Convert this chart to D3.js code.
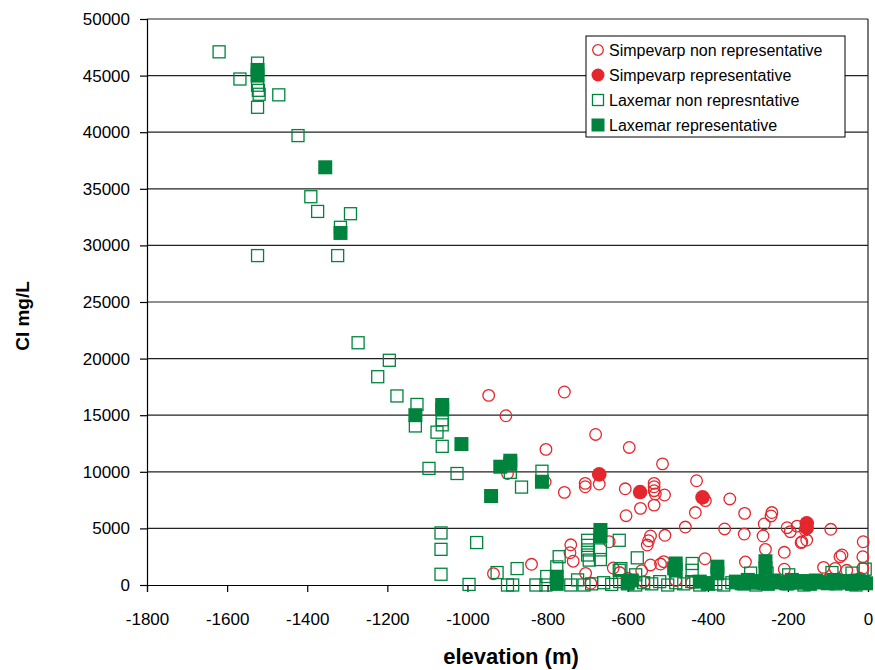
<!DOCTYPE html>
<html>
<head>
<meta charset="utf-8">
<script src="https://cdn.jsdelivr.net/npm/d3@7"></script>
<style>
  body { margin: 0; background: #fff; }
  text { font-family: "Liberation Sans", Arial, sans-serif; }
</style>
</head>
<body>
<svg id="chart" width="875" height="670"></svg>
<script>
// [elevation (m), Cl mg/L]
let simpevarpNonRep = [
  [-947, 16750], [-758, 17050], [-904, 14950], [-680, 13300], [-596, 12150], [-513, 10700],
  [-804, 11980], [-758, 8180], [-706, 8980], [-706, 8680], [-671, 8920], [-606, 8500],
  [-534, 8980], [-534, 8680], [-534, 8330], [-531, 8040], [-508, 7950], [-534, 7060],
  [-568, 6770], [-604, 6120], [-900, 9850], [-806, 9100], [-428, 9210], [-406, 7450],
  [-345, 7600], [-431, 6400], [-308, 6330], [-240, 6400], [-242, 6100], [-177, 5200],
  [-202, 5060], [-93, 4920], [-259, 5390], [-456, 5120], [-358, 4950], [-309, 4500],
  [-262, 4330], [-167, 3740], [-153, 3970], [-12, 3820], [-507, 4390], [-543, 4330],
  [-548, 3910], [-551, 3530], [-256, 3150], [-209, 2890], [-65, 2650], [-70, 2500],
  [-13, 2500], [-407, 2320], [-306, 2030], [-209, 1390], [-111, 1560], [-13, 1470],
  [-935, 1000], [-840, 1830], [-742, 3550], [-744, 2850], [-736, 2100], [-646, 3820],
  [-565, 1260], [-543, 1770], [-518, 1850], [-510, 2060], [-705, 1030], [-692, 150],
  [-620, 1100], [-636, 1500], [-194, 4710], [-157, 4860], [-165, 3820], [-82, 1470],
  [-53, 1300], [-600, 600], [-560, 300], [-480, 400], [-440, 200], [-320, 300],
  [-270, 100], [-230, 400], [-130, 200], [-100, 500], [-60, 300], [-20, 600], [-30, 100]
]

let simpevarpRep = [
  [-671, 9770], [-569, 8210], [-413, 7740], [-153, 5450], [-153, 5050]
]

let laxemarNonRep = [
  [-1620, 47100], [-1524, 46100], [-1568, 44700], [-1524, 44150], [-1522, 43700], [-1520, 43350],
  [-1471, 43300], [-1524, 42200], [-1423, 39700], [-1391, 34300], [-1374, 33000], [-1292, 32800],
  [-1317, 31600], [-1524, 29100], [-1324, 29100], [-1273, 21400], [-1195, 19850], [-1224, 18400],
  [-1176, 16700], [-1126, 15950], [-1130, 14050], [-1063, 14600], [-1063, 14150], [-1076, 13500],
  [-1063, 12250], [-1096, 10300], [-1026, 9850], [-893, 9950], [-865, 8650], [-814, 10050],
  [-1066, 4600], [-1066, 3150], [-977, 3750], [-1066, 950], [-996, 50], [-926, 1100],
  [-900, 0], [-887, 0], [-876, 1450], [-829, 0], [-802, 750], [-804, 0], [-777, 1600],
  [-771, 2500], [-742, 0], [-725, 450], [-709, 0], [-700, 3950], [-700, 3500], [-700, 3100],
  [-700, 2650], [-696, 2200], [-668, 3100], [-668, 2250], [-621, 3950], [-576, 2400],
  [-617, 1450], [-621, 1300], [-580, 900], [-439, 1900], [-439, 1300], [-293, 1050],
  [-252, 1050], [-198, 900], [-90, 1100], [-40, 1050], [-7, 1400],
  [-690, 100], [-660, 200], [-640, 50], [-620, 300], [-600, 100], [-580, 0], [-560, 200],
  [-540, 100], [-520, 300], [-500, 0], [-480, 200], [-460, 100], [-440, 300], [-420, 0],
  [-400, 200], [-380, 100], [-360, 0], [-340, 200], [-310, 100], [-280, 0], [-240, 200],
  [-200, 100], [-160, 0], [-120, 200], [-80, 100], [-30, 0]
]

let laxemarRep = [
  [-1524, 45500], [-1524, 45000], [-1355, 36900], [-1317, 31100], [-1130, 15000],
  [-1063, 15900], [-1063, 15500], [-1015, 12450], [-918, 10450], [-893, 10980], [-893, 10700],
  [-941, 7860], [-814, 9120], [-777, 730], [-777, 100], [-668, 4860], [-668, 4300],
  [-480, 1900], [-480, 1300], [-484, 1470], [-376, 1620], [-376, 1030], [-256, 2100], [-256, 1500],
  [-600, 200], [-590, 400], [-420, 300], [-400, 100],
  [-330, 300], [-315, 150], [-300, 450], [-285, 200], [-270, 350], [-250, 100], [-235, 400],
  [-220, 250], [-205, 150], [-190, 450], [-175, 200], [-160, 350], [-145, 100], [-130, 400],
  [-115, 250], [-100, 150], [-85, 450], [-70, 200], [-55, 350], [-40, 100], [-25, 400],
  [-12, 250], [-5, 150]
]

let xTicks = [-1800, -1600, -1400, -1200, -1000, -800, -600, -400, -200, 0]
let yTicks = [0, 5000, 10000, 15000, 20000, 25000, 30000, 35000, 40000, 45000, 50000]

let legendLabels = ["Simpevarp non representative", "Simpevarp representative", "Laxemar non represntative", "Laxemar representative"]

let red = "#e4262d"
let green = "#00843d"

let svg = d3.select("#chart")

let x = d3.scaleLinear().domain([-1800, 0]).range([147, 868])
let y = d3.scaleLinear().domain([0, 50000]).range([585, 19])

// gridlines
svg.append("g")
  .selectAll("line")
  .data(yTicks.filter(d => d > 0))
  .join("line")
  .attr("x1", x(-1800)).attr("x2", x(0))
  .attr("y1", d => y(d)).attr("y2", d => y(d))
  .attr("stroke", "#222").attr("stroke-width", 1.2)

// right border of the plot area
svg.append("line")
  .attr("x1", x(0)).attr("x2", x(0))
  .attr("y1", y(50000)).attr("y2", y(0))
  .attr("stroke", "#222").attr("stroke-width", 1.2)

let xAxis = d3.axisBottom(x).tickValues(xTicks).tickSizeOuter(0).tickSize(7).tickPadding(21).tickFormat(d => String(d))
svg.append("g")
  .attr("transform", `translate(0, ${y(0)})`)
  .call(xAxis)
  .call(g => g.selectAll("text").attr("font-size", 17).attr("fill", "#000").attr("font-family", "Liberation Sans"))
  .call(g => g.selectAll("line, path").attr("stroke", "#000").attr("stroke-width", 1.2))

let yAxis = d3.axisLeft(y).tickValues(yTicks).tickSizeOuter(0).tickSize(7).tickPadding(10).tickFormat(d => String(d))
svg.append("g")
  .attr("transform", `translate(${x(-1800)}, 0)`)
  .call(yAxis)
  .call(g => g.selectAll("text").attr("font-size", 17).attr("fill", "#000").attr("font-family", "Liberation Sans"))
  .call(g => g.selectAll("line, path").attr("stroke", "#000").attr("stroke-width", 1.2))

// series, drawn in legend order
svg.append("g")
  .selectAll("circle")
  .data(simpevarpNonRep)
  .join("circle")
  .attr("cx", d => x(d[0])).attr("cy", d => y(d[1]))
  .attr("r", 5.8)
  .attr("fill", "none").attr("stroke", red).attr("stroke-width", 1.3)

svg.append("g")
  .selectAll("circle")
  .data(simpevarpRep)
  .join("circle")
  .attr("cx", d => x(d[0])).attr("cy", d => y(d[1]))
  .attr("r", 7.3)
  .attr("fill", red)

svg.append("g")
  .selectAll("rect")
  .data(laxemarNonRep)
  .join("rect")
  .attr("x", d => x(d[0]) - 6).attr("y", d => y(d[1]) - 6)
  .attr("width", 12).attr("height", 12)
  .attr("fill", "none").attr("stroke", green).attr("stroke-width", 1.3)

svg.append("g")
  .selectAll("rect")
  .data(laxemarRep)
  .join("rect")
  .attr("x", d => x(d[0]) - 7).attr("y", d => y(d[1]) - 7)
  .attr("width", 14).attr("height", 14)
  .attr("fill", green)

// legend
let legend = svg.append("g").attr("transform", "translate(586, 36)")
legend.append("rect")
  .attr("width", 259).attr("height", 101)
  .attr("fill", "#fff").attr("stroke", "#000").attr("stroke-width", 1)

let rows = legend.selectAll("g.row")
  .data(legendLabels)
  .join("g")
  .attr("class", "row")
  .attr("transform", (d, i) => `translate(12, ${14 + i * 25})`)

rows.filter((d, i) => i == 0).append("circle").attr("r", 5.3).attr("fill", "none").attr("stroke", red).attr("stroke-width", 1.3)
rows.filter((d, i) => i == 1).append("circle").attr("r", 6.5).attr("fill", red)
rows.filter((d, i) => i == 2).append("rect").attr("x", -5.5).attr("y", -5.5).attr("width", 11).attr("height", 11).attr("fill", "none").attr("stroke", green).attr("stroke-width", 1.3)
rows.filter((d, i) => i == 3).append("rect").attr("x", -6.5).attr("y", -6.5).attr("width", 13).attr("height", 13).attr("fill", green)

rows.append("text")
  .attr("x", 11).attr("y", 5.5)
  .attr("font-size", 16)
  .text(d => d)

// axis titles
svg.append("text")
  .attr("x", 511).attr("y", 664)
  .attr("text-anchor", "middle")
  .attr("font-size", 22).attr("font-weight", "bold")
  .text("elevation (m)")

svg.append("text")
  .attr("transform", "translate(29, 316) rotate(-90)")
  .attr("text-anchor", "middle")
  .attr("font-size", 19).attr("font-weight", "bold")
  .text("Cl mg/L")
</script>
</body>
</html>
